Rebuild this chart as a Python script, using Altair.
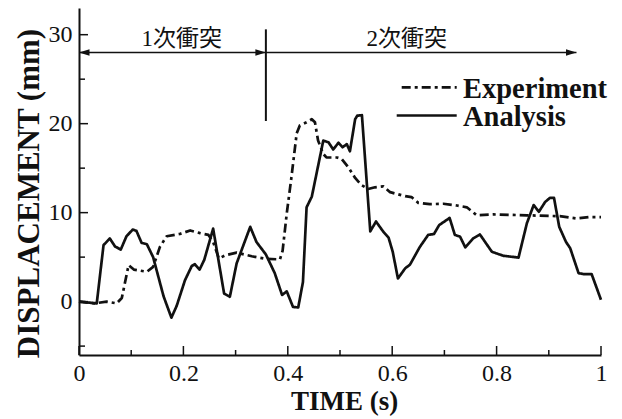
import altair as alt
import pandas as pd

# ---- data ----
time_analysis = [0.0, 0.034, 0.047, 0.059, 0.069, 0.080, 0.091, 0.103, 0.110, 0.120, 0.130, 0.142,
                 0.162, 0.177, 0.187, 0.203, 0.216, 0.222, 0.231, 0.240, 0.257, 0.278, 0.289, 0.302,
                 0.328, 0.340, 0.358, 0.375, 0.389, 0.398, 0.410, 0.420, 0.429, 0.436, 0.446, 0.468,
                 0.478, 0.487, 0.497, 0.505, 0.513, 0.519, 0.529, 0.533, 0.542, 0.558, 0.569, 0.583,
                 0.593, 0.601, 0.611, 0.625, 0.634, 0.653, 0.669, 0.680, 0.690, 0.710, 0.720, 0.730,
                 0.740, 0.755, 0.768, 0.791, 0.813, 0.842, 0.858, 0.871, 0.881, 0.893, 0.902, 0.910,
                 0.920, 0.933, 0.941, 0.957, 0.966, 0.982, 1.0]
disp_analysis = [0.0, -0.2, 6.35, 7.1, 6.2, 5.85, 7.35, 8.1, 7.95, 6.6, 6.45, 5.0,
                 0.6, -1.8, -0.5, 2.4, 4.0, 4.2, 3.6, 4.7, 8.2, 0.9, 0.55, 4.3,
                 8.4, 6.7, 5.3, 3.2, 0.75, 1.15, -0.6, -0.65, 2.2, 10.6, 11.8, 18.1,
                 17.9, 17.1, 17.85, 17.35, 17.7, 16.9, 20.5, 20.9, 20.95, 7.9, 9.0, 7.85,
                 7.2, 5.6, 2.6, 3.75, 4.15, 6.15, 7.5, 7.6, 8.6, 9.4, 7.5, 7.3,
                 6.1, 7.1, 7.55, 5.6, 5.15, 4.95, 8.8, 10.85, 10.1, 11.2, 11.65, 11.65,
                 8.4, 6.7, 6.0, 3.2, 3.1, 3.1, 0.2]

time_experiment = [0.0, 0.030, 0.053, 0.072, 0.082, 0.095, 0.105, 0.130, 0.142, 0.155, 0.168, 0.193,
                   0.213, 0.232, 0.248, 0.257, 0.268, 0.280, 0.302, 0.331, 0.358, 0.385, 0.390, 0.398,
                   0.407, 0.417, 0.423, 0.436, 0.446, 0.452, 0.458, 0.468, 0.474, 0.494, 0.503, 0.516,
                   0.529, 0.541, 0.554, 0.567, 0.583, 0.596, 0.625, 0.637, 0.650, 0.672, 0.698, 0.724,
                   0.743, 0.762, 0.794, 0.858, 0.921, 0.953, 0.976, 1.0]
disp_experiment = [0.0, -0.2, 0.0, -0.2, 0.4, 4.1, 3.6, 3.35, 3.9, 6.15, 7.35, 7.6,
                   8.0, 7.7, 7.5, 6.7, 4.85, 5.2, 5.5, 5.1, 4.8, 4.75, 5.7, 9.9,
                   14.0, 18.9, 19.8, 20.15, 20.5, 20.15, 18.1, 16.6, 16.2, 16.2, 16.05, 15.1,
                   13.9, 13.1, 12.65, 12.85, 12.95, 12.3, 11.85, 11.75, 11.1, 10.95, 11.0, 10.8,
                   10.6, 9.7, 9.8, 9.7, 9.6, 9.35, 9.5, 9.5]

series_names = ["Experiment", "Analysis"]

x_ticks = [0, 0.2, 0.4, 0.6, 0.8, 1.0]
x_minor = [0.1, 0.3, 0.5, 0.7, 0.9]
y_ticks = [0, 10, 20, 30]
y_minor = [-5, 5, 15, 25]

phase_labels = ["1次衝突", "2次衝突"]
phase_label_t = [0.197, 0.628]
phase_label_d = [28.7, 28.7]
arrow_d = 28.0
arrow_start = 0.0
divider_t = 0.358
arrow_end = 0.953
divider_d = [20.3, 30.6]

# ---- layout / style ----
W, H = 522, 347
INK = "#111111"
SERIF = "Liberation Serif"

xscale = alt.Scale(domain=[0, 1], nice=False, zero=False)
yscale = alt.Scale(domain=[-6, 33], nice=False, zero=False)
dash_scale = alt.Scale(domain=series_names, range=[[9, 4, 3, 4], [1, 0]])

x_axis = alt.Axis(values=x_ticks, format="~g", ticks=False, tickSize=0, grid=False,
                  domainColor=INK, domainWidth=2, labelFont=SERIF, labelFontSize=24,
                  labelColor=INK, labelPadding=6, labelFlush=False,
                  title="TIME (s)", titleFont=SERIF, titleFontSize=27, titleFontWeight="bold",
                  titleColor=INK, titleX=265, titleY=54, titleAlign="center",
                  titleBaseline="alphabetic")
y_axis = alt.Axis(values=y_ticks, format="d", ticks=False, tickSize=0, grid=False,
                  domainColor=INK, domainWidth=2, labelFont=SERIF, labelFontSize=24,
                  labelColor=INK, labelPadding=7, labelFlush=False,
                  title="DISPLACEMENT (mm)", titleFont=SERIF, titleFontSize=31,
                  titleFontWeight="bold", titleColor=INK, titleAngle=270, titleX=-50,
                  titleY=185, titleAlign="center", titleBaseline="middle")

lines_df = pd.concat([
    pd.DataFrame({"t": time_experiment, "d": disp_experiment, "series": series_names[0]}),
    pd.DataFrame({"t": time_analysis, "d": disp_analysis, "series": series_names[1]}),
])

lines = alt.Chart(lines_df).mark_line(color=INK, strokeWidth=2.7, strokeJoin="round").encode(
    x=alt.X("t:Q", scale=xscale, axis=x_axis),
    y=alt.Y("d:Q", scale=yscale, axis=y_axis),
    strokeDash=alt.StrokeDash("series:N", scale=dash_scale, legend=None),
    detail="series:N",
)

# inward ticks
x_major_rules = alt.Chart(pd.DataFrame({"t": x_ticks})).mark_rule(color=INK, strokeWidth=1.5).encode(
    x=alt.X("t:Q", scale=xscale, axis=x_axis), y=alt.value(H), y2=alt.value(H - 9))
x_minor_rules = alt.Chart(pd.DataFrame({"t": x_minor})).mark_rule(color=INK, strokeWidth=1.5).encode(
    x=alt.X("t:Q", scale=xscale, axis=x_axis), y=alt.value(H), y2=alt.value(H - 5))
y_major_rules = alt.Chart(pd.DataFrame({"d": y_ticks})).mark_rule(color=INK, strokeWidth=1.5).encode(
    y=alt.Y("d:Q", scale=yscale, axis=y_axis), x=alt.value(0), x2=alt.value(9))
y_minor_rules = alt.Chart(pd.DataFrame({"d": y_minor})).mark_rule(color=INK, strokeWidth=1.5).encode(
    y=alt.Y("d:Q", scale=yscale, axis=y_axis), x=alt.value(0), x2=alt.value(6))

# phase annotation
arrow_line = alt.Chart(pd.DataFrame({"t": [arrow_start], "t2": [arrow_end], "d": [arrow_d]})).mark_rule(
    color=INK, strokeWidth=1.6).encode(
    x=alt.X("t:Q", scale=xscale, axis=x_axis), x2="t2:Q",
    y=alt.Y("d:Q", scale=yscale, axis=y_axis))
divider = alt.Chart(pd.DataFrame({"t": [divider_t], "d": [divider_d[0]], "d2": [divider_d[1]]})).mark_rule(
    color=INK, strokeWidth=2).encode(
    x=alt.X("t:Q", scale=xscale, axis=x_axis),
    y=alt.Y("d:Q", scale=yscale, axis=y_axis), y2="d2:Q")
head_left = alt.Chart(pd.DataFrame({"t": [arrow_start], "d": [arrow_d]})).mark_point(
    shape="M0,0 L2,-0.6 L2,0.6 Z", filled=True, color=INK, size=110, opacity=1).encode(
    x=alt.X("t:Q", scale=xscale, axis=x_axis), y=alt.Y("d:Q", scale=yscale, axis=y_axis))
head_right = alt.Chart(pd.DataFrame({"t": [divider_t, arrow_end], "d": [arrow_d, arrow_d]})).mark_point(
    shape="M0,0 L-2,-0.6 L-2,0.6 Z", filled=True, color=INK, size=110, opacity=1).encode(
    x=alt.X("t:Q", scale=xscale, axis=x_axis), y=alt.Y("d:Q", scale=yscale, axis=y_axis))
phase_text = alt.Chart(pd.DataFrame({"t": phase_label_t, "d": phase_label_d, "label": phase_labels})).mark_text(
    font=f"{SERIF}, Noto Sans CJK JP", fontSize=23, color=INK, align="center", baseline="alphabetic").encode(
    x=alt.X("t:Q", scale=xscale, axis=x_axis), y=alt.Y("d:Q", scale=yscale, axis=y_axis),
    text="label:N")

# manual legend
legend_layers = []
legend_line_y = [79.3, 107.5]
legend_text_y = [89.7, 118.0]
legend_line_x = [322.7, 317.7]
for i, name in enumerate(series_names):
    ldf = pd.DataFrame({"series": [name]})
    legend_layers.append(alt.Chart(ldf).mark_rule(color=INK, strokeWidth=2.7).encode(
        x=alt.value(legend_line_x[i]), x2=alt.value(377.7), y=alt.value(legend_line_y[i]),
        strokeDash=alt.StrokeDash("series:N", scale=dash_scale, legend=None)))
    legend_layers.append(alt.Chart(ldf).mark_text(
        font=SERIF, fontSize=28.5, fontWeight="bold", color=INK, align="left",
        baseline="alphabetic").encode(
        x=alt.value(384), y=alt.value(legend_text_y[i]), text="series:N"))

chart = alt.layer(
    lines, x_major_rules, x_minor_rules, y_major_rules, y_minor_rules,
    arrow_line, divider, head_left, head_right, phase_text, *legend_layers
).properties(
    width=W, height=H,
    autosize=alt.AutoSizeParams(type="none"),
    padding={"left": 79, "top": 8, "right": 21, "bottom": 64},
    background="white",
).configure_view(stroke=None)

chart.save("out.html", embed_options={"renderer": "svg", "actions": False})
